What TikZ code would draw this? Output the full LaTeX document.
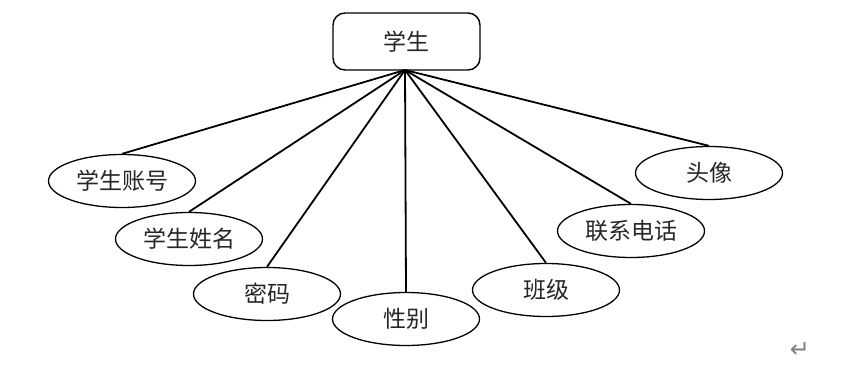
\documentclass[tikz,border=0pt]{standalone}
\usepackage{fontspec}
\newfontfamily\cjk{Noto Sans CJK SC}
\newfontfamily\dejavu{DejaVu Sans}
\usetikzlibrary{shapes.geometric}
\begin{document}
\begin{tikzpicture}[x=1pt,y=-1pt,
  entity/.style={draw, line width=1.4pt, rounded corners=12pt, minimum width=147pt, minimum height=57pt, inner sep=0pt, font=\cjk\fontsize{23}{23}\selectfont, text=black!85},
  attr/.style={draw, line width=1.3pt, ellipse, minimum width=147pt, minimum height=53pt, inner sep=0pt, font=\cjk\fontsize{23}{23}\selectfont, text=black!85},
  link/.style={line width=1.8pt}]
\useasboundingbox (0,0) rectangle (843,377);
\node[entity] (s) at (406.5,41.5) {学生};
\node[attr] (a1) at (122,181) {学生账号};
\node[attr] (a2) at (189,239) {学生姓名};
\node[attr] (a3) at (267,294) {密码};
\node[attr] (a4) at (406,319) {性别};
\node[attr] (a5) at (546,290) {班级};
\node[attr] (a6) at (631,231) {联系电话};
\node[attr] (a7) at (709,173) {头像};
\coordinate (c) at (405,70);
\foreach \n in {a1,a2,a3,a4,a5,a6,a7} {\draw[link] (c) -- (\n.north);}
\node[font=\dejavu\fontsize{24}{24}\selectfont, text=black!50] (ret) at (800,350) {↵};
\end{tikzpicture}
\end{document}
